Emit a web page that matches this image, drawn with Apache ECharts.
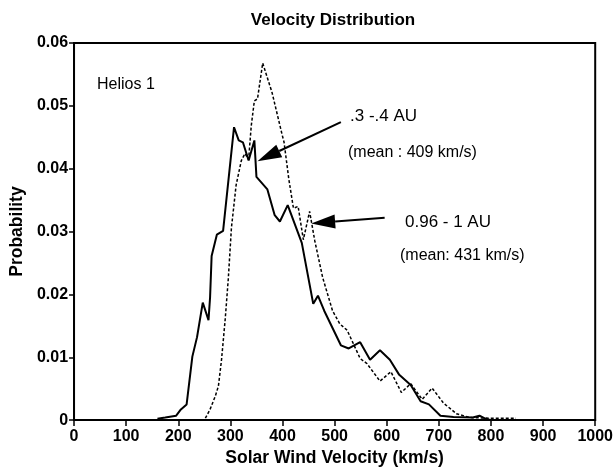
<!DOCTYPE html>
<html>
<head>
<meta charset="utf-8">
<style>
html, body { margin: 0; padding: 0; background: #fff; }
#main { width: 616px; height: 472px; }
</style>
<script src="https://cdn.jsdelivr.net/npm/echarts@6/dist/echarts.min.js"></script>
</head>
<body>
<div id="main"></div>
<script>
// solid curve (km/s, probability)
var solidVel = [160, 175, 196, 205, 216, 227, 236, 247, 258, 261, 264, 274, 286, 307, 316, 324, 335, 346, 350, 371, 385, 395, 410, 437, 459, 468, 480, 512, 527, 549, 568, 587, 606, 624, 646, 665, 681, 703, 728, 765, 778, 790, 800];
var solidProb = [0.0002, 0.0004, 0.0007, 0.0017, 0.0025, 0.0101, 0.0132, 0.0187, 0.0159, 0.0195, 0.0261, 0.0295, 0.0301, 0.0466, 0.0445, 0.0442, 0.0413, 0.0445, 0.0387, 0.0367, 0.0326, 0.0316, 0.0342, 0.0282, 0.0185, 0.0198, 0.0174, 0.0119, 0.0114, 0.0124, 0.0096, 0.0111, 0.0096, 0.0072, 0.0056, 0.0030, 0.0025, 0.0007, 0.0005, 0.0004, 0.0007, 0.0002, 0];

// dashed curve
var dashVel = [252, 261, 271, 277, 283, 290, 296, 302, 311, 321, 328, 335, 340, 346, 352, 362, 380, 399, 403, 412, 421, 430, 440, 452, 462, 477, 496, 510, 524, 549, 562, 587, 608, 628, 646, 668, 687, 709, 734, 760, 800, 848];
var dashProb = [0.0003, 0.0017, 0.0038, 0.0054, 0.0096, 0.0160, 0.0225, 0.0306, 0.0374, 0.0413, 0.0424, 0.0415, 0.0468, 0.0508, 0.0511, 0.0568, 0.0521, 0.0455, 0.0442, 0.0384, 0.0337, 0.0340, 0.0287, 0.0332, 0.0285, 0.0227, 0.0174, 0.0153, 0.0143, 0.0098, 0.0090, 0.0062, 0.0077, 0.0044, 0.0058, 0.0033, 0.0051, 0.0027, 0.0010, 0.0004, 0.0003, 0.0003];

// arrows: [fromVel, fromProb, toVel, toProb]
var arrowNear = [512, 0.0474, 352, 0.0412];
var arrowFar = [596, 0.0322, 455, 0.0313];

function pairs(xs, ys) {
    var out = [];
    for (var i = 0; i < xs.length; i++) out.push([xs[i], ys[i]]);
    return out;
}

var chart = echarts.init(document.getElementById('main'));
var font = '"Liberation Sans", Arial, sans-serif';

var option = {
    backgroundColor: '#fff',
    animation: false,
    title: {
        text: 'Velocity Distribution',
        left: 328, top: 7, textAlign: 'center',
        textStyle: { fontFamily: font, fontSize: 17, fontWeight: 'bold', color: '#000' }
    },
    grid: {
        left: 72, right: 11, top: 43, bottom: 48,
        show: true, borderColor: '#000', borderWidth: 2, backgroundColor: 'transparent'
    },
    xAxis: {
        type: 'value', min: 0, max: 1000, interval: 100,
        name: 'Solar Wind Velocity (km/s)', nameLocation: 'middle', nameGap: 25,
        nameTextStyle: { fontFamily: font, fontSize: 17.5, fontWeight: 'bold', color: '#000' },
        axisLine: { show: true, lineStyle: { color: '#000', width: 2 } },
        axisTick: { show: true, length: 6, lineStyle: { color: '#000', width: 1.5 } },
        axisLabel: {
            margin: 8, fontFamily: font, fontSize: 16, fontWeight: 'bold', color: '#000',
            formatter: function (v) { return String(v); }
        },
        splitLine: { show: false }
    },
    yAxis: {
        type: 'value', min: 0, max: 0.06, interval: 0.01,
        name: 'Probability', nameLocation: 'middle', nameGap: 46,
        nameTextStyle: { fontFamily: font, fontSize: 17.5, fontWeight: 'bold', color: '#000' },
        axisLine: { show: true, lineStyle: { color: '#000', width: 2 } },
        axisTick: { show: true, length: 5, lineStyle: { color: '#000', width: 1.5 } },
        axisLabel: {
            margin: 6, fontFamily: font, fontSize: 16, fontWeight: 'bold', color: '#000',
            formatter: function (v) { return v === 0 ? '0' : v.toFixed(2); }
        },
        splitLine: { show: false }
    },
    series: [{
        type: 'line', name: 'solid', data: pairs(solidVel, solidProb),
        showSymbol: false, lineStyle: { color: '#000', width: 2 }, z: 3
    }, {
        type: 'line', name: 'dashed', data: pairs(dashVel, dashProb),
        showSymbol: false, lineStyle: { color: '#000', width: 1.5, type: [3, 2] }, z: 2
    }]
};
chart.setOption(option);

function arrowGraphic(a) {
    var p0 = chart.convertToPixel({ gridIndex: 0 }, [a[0], a[1]]);
    var p1 = chart.convertToPixel({ gridIndex: 0 }, [a[2], a[3]]);
    var dx = p1[0] - p0[0], dy = p1[1] - p0[1];
    var len = Math.sqrt(dx * dx + dy * dy);
    var ux = dx / len, uy = dy / len;
    var headL = 24, headW = 7;
    var bx = p1[0] - ux * headL, by = p1[1] - uy * headL;
    return [{
        type: 'line',
        shape: { x1: p0[0], y1: p0[1], x2: bx, y2: by },
        style: { stroke: '#000', lineWidth: 2 }
    }, {
        type: 'polygon',
        shape: { points: [[p1[0], p1[1]], [bx - uy * headW, by + ux * headW], [bx + uy * headW, by - ux * headW]] },
        style: { fill: '#000' }
    }];
}

var txt = function (x, y, s, size) {
    return { type: 'text', x: x, y: y, style: { text: s, fontFamily: font, fontSize: size, fill: '#000' } };
};

chart.setOption({
    graphic: arrowGraphic(arrowNear).concat(arrowGraphic(arrowFar)).concat([
        txt(97, 77, 'Helios 1', 16),
        txt(350, 108, '.3 -.4 AU', 17),
        txt(348, 145, '(mean : 409 km/s)', 16),
        txt(405, 214, '0.96 - 1 AU', 17),
        txt(400, 248, '(mean: 431 km/s)', 16)
    ])
});
</script>
</body>
</html>
